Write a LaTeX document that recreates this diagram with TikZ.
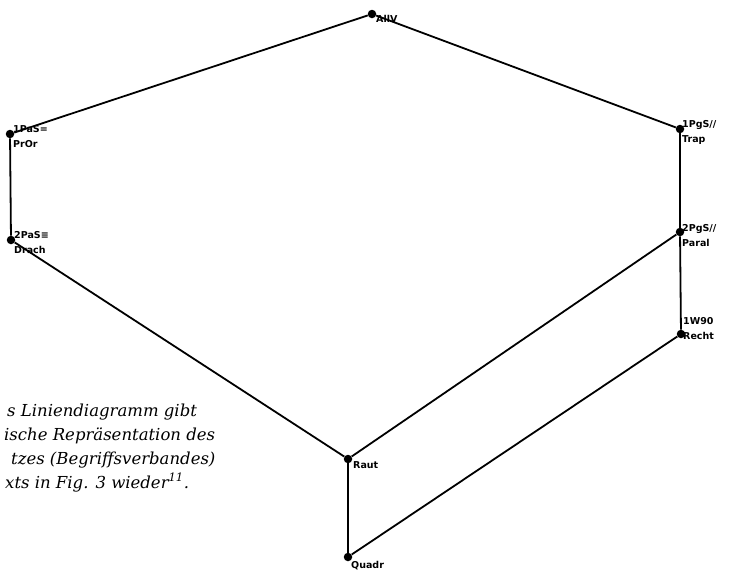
\documentclass[tikz,border=0pt]{standalone}
\usepackage{fontspec}
\setmainfont{DejaVu Serif}
\newfontfamily\plotfont{DejaVu Sans}
\tikzset{
  pt/.style={circle,fill=black,inner sep=0pt,minimum size=8.5pt},
  lbl/.style={font=\plotfont\bfseries\fontsize{9.5}{15}\selectfont,align=left,inner sep=1pt},
  edge/.style={line width=1.8pt},
  captext/.style={font=\itshape\fontsize{16.5}{20}\selectfont,anchor=base west,inner sep=0pt}
}
\begin{document}
\begin{tikzpicture}[x=1pt,y=-1pt]
  \useasboundingbox (0,0) rectangle (731,574);
  % lattice points
  \node[pt] (allv)  at (372,14)  {};
  \node[pt] (pror)  at (10,134)  {};
  \node[pt] (drach) at (11,240)  {};
  \node[pt] (trap)  at (680,129) {};
  \node[pt] (paral) at (680,232) {};
  \node[pt] (recht) at (681,334) {};
  \node[pt] (raut)  at (348,459) {};
  \node[pt] (quadr) at (348,557) {};
  % labels
  \node[lbl,anchor=north west] (lallv)  at (375,14)  {AllV};
  \node[lbl,anchor=west]       (lpror)  at (12,137)  {1PaS=\\PrOr};
  \node[lbl,anchor=west]       (ldrach) at (13,243)  {2PaS≡\\Drach};
  \node[lbl,anchor=west]       (ltrap)  at (681,132) {1PgS//\\Trap};
  \node[lbl,anchor=west]       (lparal) at (681,236) {2PgS//\\Paral};
  \node[lbl,anchor=west]       (lrecht) at (682,329) {1W90\\Recht};
  \node[lbl,anchor=north west] (lraut)  at (352,460) {Raut};
  \node[lbl,anchor=north west] (lquadr) at (350,560) {Quadr};
  % lines
  \draw[edge] (allv) -- (pror);
  \draw[edge] (allv) -- (trap);
  \draw[edge] (pror) -- (drach);
  \draw[edge] (trap) -- (paral);
  \draw[edge] (drach) -- (raut);
  \draw[edge] (paral) -- (raut);
  \draw[edge] (paral) -- (recht);
  \draw[edge] (raut) -- (quadr);
  \draw[edge] (recht) -- (quadr);
  % caption (cut at the left edge)
  \node[captext] (c1) at (7,416)  {s Liniendiagramm gibt};
  \node[captext] (c2) at (4,440)  {ische Repräsentation des};
  \node[captext] (c3) at (11,464) {tzes (Begriffsverbandes)};
  \node[captext] (c4) at (5,488)  {xts in Fig. 3 wieder\textsuperscript{11}.};
\end{tikzpicture}
\end{document}
